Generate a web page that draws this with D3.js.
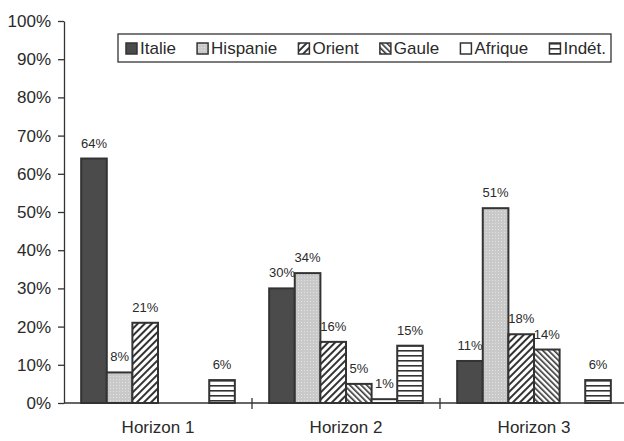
<!DOCTYPE html>
<html><head><meta charset="utf-8">
<script src="https://cdn.jsdelivr.net/npm/d3@7"></script>
<style>body{margin:0;background:#fff}svg{display:block}text{font-family:"Liberation Sans",Arial,sans-serif;fill:#2a2a2a}</style>
</head><body><svg id="c" width="624" height="441"></svg>
<script>
const categories = ["Horizon 1","Horizon 2","Horizon 3"];
const series = ["Italie","Hispanie","Orient","Gaule","Afrique","Indét."];
const italie   = [64,30,11];
const hispanie = [8,34,51];
const orient   = [21,16,18];
const gaule    = [0,5,14];
const afrique  = [0,1,0];
const indet    = [6,15,6];
const yTicks = [0,10,20,30,40,50,60,70,80,90,100];
const values = [italie,hispanie,orient,gaule,afrique,indet];

const svg = d3.select("#c");
const defs = svg.append("defs");
const ink = "#333";
// patterns
let p = defs.append("pattern").attr("id","p1").attr("patternUnits","userSpaceOnUse").attr("width",3).attr("height",3);
p.append("rect").attr("width",3).attr("height",3).attr("fill","#c9c9c9");
p.append("rect").attr("x",1).attr("y",1).attr("width",1).attr("height",1).attr("fill","#e2e2e2");
p = defs.append("pattern").attr("id","p2").attr("patternUnits","userSpaceOnUse").attr("width",5).attr("height",5).attr("patternTransform","rotate(45)");
p.append("rect").attr("width",5).attr("height",5).attr("fill","#fff");
p.append("rect").attr("width",2).attr("height",5).attr("fill",ink);
p = defs.append("pattern").attr("id","p3").attr("patternUnits","userSpaceOnUse").attr("width",4).attr("height",4).attr("patternTransform","rotate(-45)");
p.append("rect").attr("width",4).attr("height",4).attr("fill","#fff");
p.append("rect").attr("width",1.6).attr("height",4).attr("fill",ink);
p = defs.append("pattern").attr("id","p5").attr("patternUnits","userSpaceOnUse").attr("width",5).attr("height",5);
p.append("rect").attr("width",5).attr("height",5).attr("fill","#fff");
p.append("rect").attr("y",0).attr("width",5).attr("height",1.6).attr("fill",ink);
const fills = ["#4b4b4b","url(#p1)","url(#p2)","url(#p3)","#fff","url(#p5)"];

const x0 = d3.scaleBand().domain(categories).range([64,628]).padding(0);
const x1 = d3.scaleBand().domain(series).range([0,x0.bandwidth()]).paddingInner(0).paddingOuter(0.67);
const y = d3.scaleLinear().domain([0,100]).range([403,21]);

// y axis
const ya = svg.append("g").attr("transform","translate(64,0)")
  .call(d3.axisLeft(y).tickValues(yTicks).tickFormat(d=>d+"%").tickSize(6).tickSizeOuter(0));
ya.select(".domain").attr("stroke",ink).attr("stroke-width",1.3);
ya.selectAll(".tick line").attr("stroke",ink).attr("stroke-width",1.3);
ya.selectAll(".tick text").attr("font-size",17).attr("x",-13).attr("fill","#2a2a2a").style("font-family","'Liberation Sans',Arial,sans-serif");

// bars
const groups = svg.append("g").selectAll("g").data(categories).join("g")
  .attr("transform",d=>`translate(${x0(d)},0)`);
groups.each(function(cat,ci){
  const g = d3.select(this);
  series.forEach((s,si)=>{
    const v = values[si][ci];
    if(v<=0) return;
    g.append("rect").attr("x",x1(s)).attr("y",y(v)).attr("width",x1.bandwidth()).attr("height",y(0)-y(v))
      .attr("fill",fills[si]).attr("stroke",ink).attr("stroke-width",2);
    g.append("text").attr("x",x1(s)+x1.bandwidth()/2).attr("y",y(v)-11).attr("text-anchor","middle")
      .attr("font-size",13).text(v+"%");
  });
});

// x axis
svg.append("line").attr("x1",64).attr("x2",624).attr("y1",y(0)).attr("y2",y(0)).attr("stroke",ink).attr("stroke-width",1.3);
categories.forEach((c,i)=>{
  if(i>0) svg.append("line").attr("x1",x0(c)).attr("x2",x0(c)).attr("y1",y(0)-5).attr("y2",y(0)+6).attr("stroke",ink).attr("stroke-width",1.3);
  svg.append("text").attr("x",x0(c)+x0.bandwidth()/2).attr("y",433).attr("text-anchor","middle").attr("font-size",17).text(c);
});

// legend
const lg = svg.append("g");
lg.append("rect").attr("x",118).attr("y",34).attr("width",493).attr("height",28).attr("fill","#fff").attr("stroke",ink).attr("stroke-width",1.3);
const items = lg.selectAll("g.it").data(series).join("g").attr("class","it");
items.append("rect").attr("width",11).attr("height",11).attr("fill",(d,i)=>fills[i]).attr("stroke",ink).attr("stroke-width",1.5);
items.append("text").attr("x",14).attr("y",11).attr("font-size",17).text(d=>d);
const widths = [];
items.each(function(){ widths.push(14 + d3.select(this).select("text").node().getComputedTextLength()); });
const start=126, end=606;
const gap = (end-start - d3.sum(widths))/(series.length-1);
let cx = start;
items.each(function(d,i){ d3.select(this).attr("transform",`translate(${cx},43)`); cx += widths[i]+gap; });
</script></body></html>
